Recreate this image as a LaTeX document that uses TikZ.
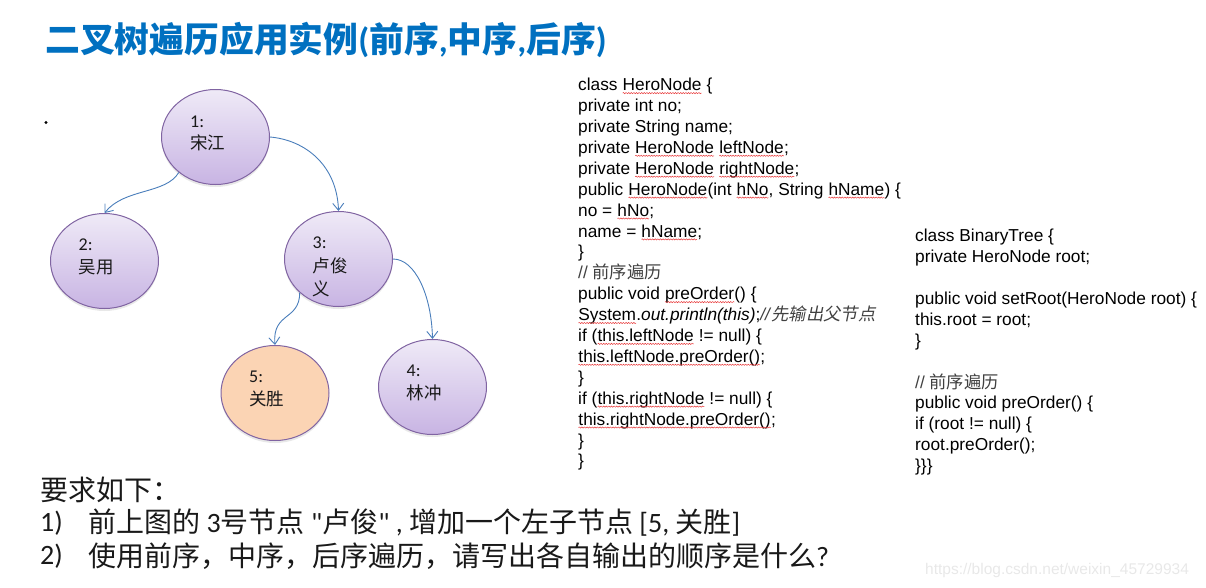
\documentclass[tikz,border=0pt]{standalone}
\usepackage{fontspec}
\usetikzlibrary{shapes.geometric,arrows.meta,shadows,decorations.pathmorphing}
\setmainfont{Carlito}
\newfontfamily\cjk{Noto Sans CJK SC}
\newfontfamily\cjkit[FakeSlant=0.2]{Noto Sans CJK SC}
\newfontfamily\code{Liberation Sans}
\newfontfamily\plainq{Carlito}
\definecolor{htop}{HTML}{EFEAF7}
\definecolor{hbot}{HTML}{C8B4E3}
\definecolor{hborder}{HTML}{8064A2}
\definecolor{peach}{HTML}{FBD4B4}
\definecolor{arrowblue}{HTML}{4A7EBB}
\definecolor{titleblue}{HTML}{0070C0}
\definecolor{cmt}{HTML}{404040}
\definecolor{squig}{HTML}{E8393A}
\newcommand\sq[1]{\tikz[baseline=(sqw.base)]{\node[rectangle,anchor=base,inner sep=0pt,outer sep=0pt,draw=none,fill=none] (sqw) {#1};\draw[squig,line width=0.5pt,decorate,decoration={snake,amplitude=0.6pt,segment length=2.6pt}] ([yshift=-2.4pt]sqw.base west) -- ([yshift=-2.4pt]sqw.base east);}}
\newcommand\dq{{\plainq\char34}}
\tikzset{
  hero/.style={ellipse, minimum width=108pt, minimum height=95pt, inner sep=0pt,
    draw=hborder, line width=1pt, top color=htop, bottom color=hbot,
    drop shadow={shadow xshift=0pt, shadow yshift=-2.5pt, opacity=0.18}},
  herofive/.style={hero, top color=peach, bottom color=peach},
  lab/.style={anchor=west, inner sep=0pt, text=black!90},
  num/.style={lab, font=\fontsize{18pt}{20pt}\selectfont},
  nm/.style={lab, font=\cjk\fontsize{17.5pt}{20pt}\selectfont},
  arr/.style={arrowblue, line width=0.9pt, -{Straight Barb[length=7pt,width=11pt]}},
  codeline/.style={anchor=base west, inner sep=0pt, font=\code\fontsize{17.3pt}{20pt}\selectfont},
  req/.style={anchor=west, inner sep=0pt, font=\fontsize{28pt}{30pt}\selectfont, text=black!90}
}
\begin{document}
\begin{tikzpicture}[x=1pt,y=-1pt]
\useasboundingbox (0,0) rectangle (1206,587);
% title
\node[anchor=west, inner sep=0pt, text=titleblue, font=\fontsize{34.8pt}{38pt}\selectfont\bfseries] (title) at (45,40)
  {{\cjk 二叉树遍历应用实例}({\cjk 前序},{\cjk 中序},{\cjk 后序})};
% bullet dot
\fill (46,122.5) circle (1.6pt);
% tree nodes
\node[hero] (n1) at (215.5,137) {};
\node[hero] (n2) at (104.5,261) {};
\node[hero] (n3) at (338.5,259) {};
\node[herofive] (n5) at (275,393) {};
\node[hero] (n4) at (432.5,387) {};
% labels
\node[num] (l1a) at (190,122) {1:};
\node[nm]  (l1b) at (190,143) {宋江};
\node[num] (l2a) at (78.5,245) {2:};
\node[nm]  (l2b) at (78.5,267) {吴用};
\node[num] (l3a) at (312.5,243) {3:};
\node[nm]  (l3b) at (312.5,266) {卢俊};
\node[nm]  (l3c) at (312.5,289) {义};
\node[num] (l5a) at (249,377) {5:};
\node[nm]  (l5b) at (249,399) {关胜};
\node[num] (l4a) at (406.5,371) {4:};
\node[nm]  (l4b) at (406.5,393) {林冲};
% connectors
\draw[arr] (n1.224) .. controls +(-13,22) and +(20,-25) .. (n2.north);
\draw[arr] (n1.east) .. controls +(35,3) and +(-1.5,-46) .. (n3.north);
\draw[arr] (n3.221) .. controls +(0,28) and +(-3,-33) .. (n5.north);
\draw[arr] (n3.east) .. controls +(22,0) and +(-1,-44) .. (n4.north);
% HeroNode code
\node[codeline] (c1)  at (578,90.7)  {class \sq{HeroNode} \{};
\node[codeline] (c2)  at (578,111.6) {private int no;};
\node[codeline] (c3)  at (578,132.5) {private String name;};
\node[codeline] (c4)  at (578,153.4) {private \sq{HeroNode} \sq{leftNode};};
\node[codeline] (c5)  at (578,174.3) {private \sq{HeroNode} \sq{rightNode};};
\node[codeline] (c6)  at (578,195.2) {public \sq{HeroNode}(int \sq{hNo}, String \sq{hName}) \{};
\node[codeline] (c7)  at (578,216.1) {no = \sq{hNo};};
\node[codeline] (c8)  at (578,237.0) {name = \sq{hName};};
\node[codeline] (c9)  at (578,257.9) {\}};
\node[codeline] (c10) at (578,278.8) {{\color{cmt}// {\cjk 前序遍历}}};
\node[codeline] (c11) at (578,299.7) {public void \sq{preOrder}() \{};
\node[codeline] (c12) at (578,320.6) {\sq{System}.\textit{out.println(this)};{\color{cmt}\textit{//}{\cjkit 先输出父节点}}};
\node[codeline] (c13) at (578,341.5) {if (\sq{this.leftNode} != null) \{};
\node[codeline] (c14) at (578,362.4) {\sq{this.leftNode.preOrder()};};
\node[codeline] (c15) at (578,383.3) {\}};
\node[codeline] (c16) at (578,404.2) {if (\sq{this.rightNode} != null) \{};
\node[codeline] (c17) at (578,425.1) {\sq{this.rightNode.preOrder()};};
\node[codeline] (c18) at (578,446.0) {\}};
\node[codeline] (c19) at (578,466.9) {\}};
% BinaryTree code
\node[codeline] (d1)  at (915,241.7) {class BinaryTree \{};
\node[codeline] (d2)  at (915,262.6) {private HeroNode root;};
\node[codeline] (d4)  at (915,304.4) {public void setRoot(HeroNode root) \{};
\node[codeline] (d5)  at (915,325.3) {this.root = root;};
\node[codeline] (d6)  at (915,346.2) {\}};
\node[codeline] (d8)  at (915,388.0) {{\color{cmt}// {\cjk 前序遍历}}};
\node[codeline] (d9)  at (915,408.9) {public void preOrder() \{};
\node[codeline] (d10) at (915,429.8) {if (root != null) \{};
\node[codeline] (d11) at (915,450.7) {root.preOrder();};
\node[codeline] (d12) at (915,471.6) {\}\}\}};
% requirements
\node[req] (r0) at (40,490) {{\cjk 要求如下：}};
\node[req] (r1n) at (40,523) {1)};
\node[req] (r1) at (88,523) {{\cjk 前上图的} 3{\cjk 号节点} \dq{\cjk 卢俊}\dq\ , {\cjk 增加一个左子节点} [5, {\cjk 关胜}]};
\node[req] (r2n) at (40,556) {2)};
\node[req] (r2) at (88,556) {{\cjk 使用前序，中序，后序遍历，请写出各自输出的顺序是什么}?};
% watermark
\node[anchor=west, inner sep=0pt, text=black!9, font=\code\fontsize{15.5pt}{18pt}\selectfont] (wm) at (925,570) {https://blog.csdn.net/weixin\_45729934};
\end{tikzpicture}
\end{document}
